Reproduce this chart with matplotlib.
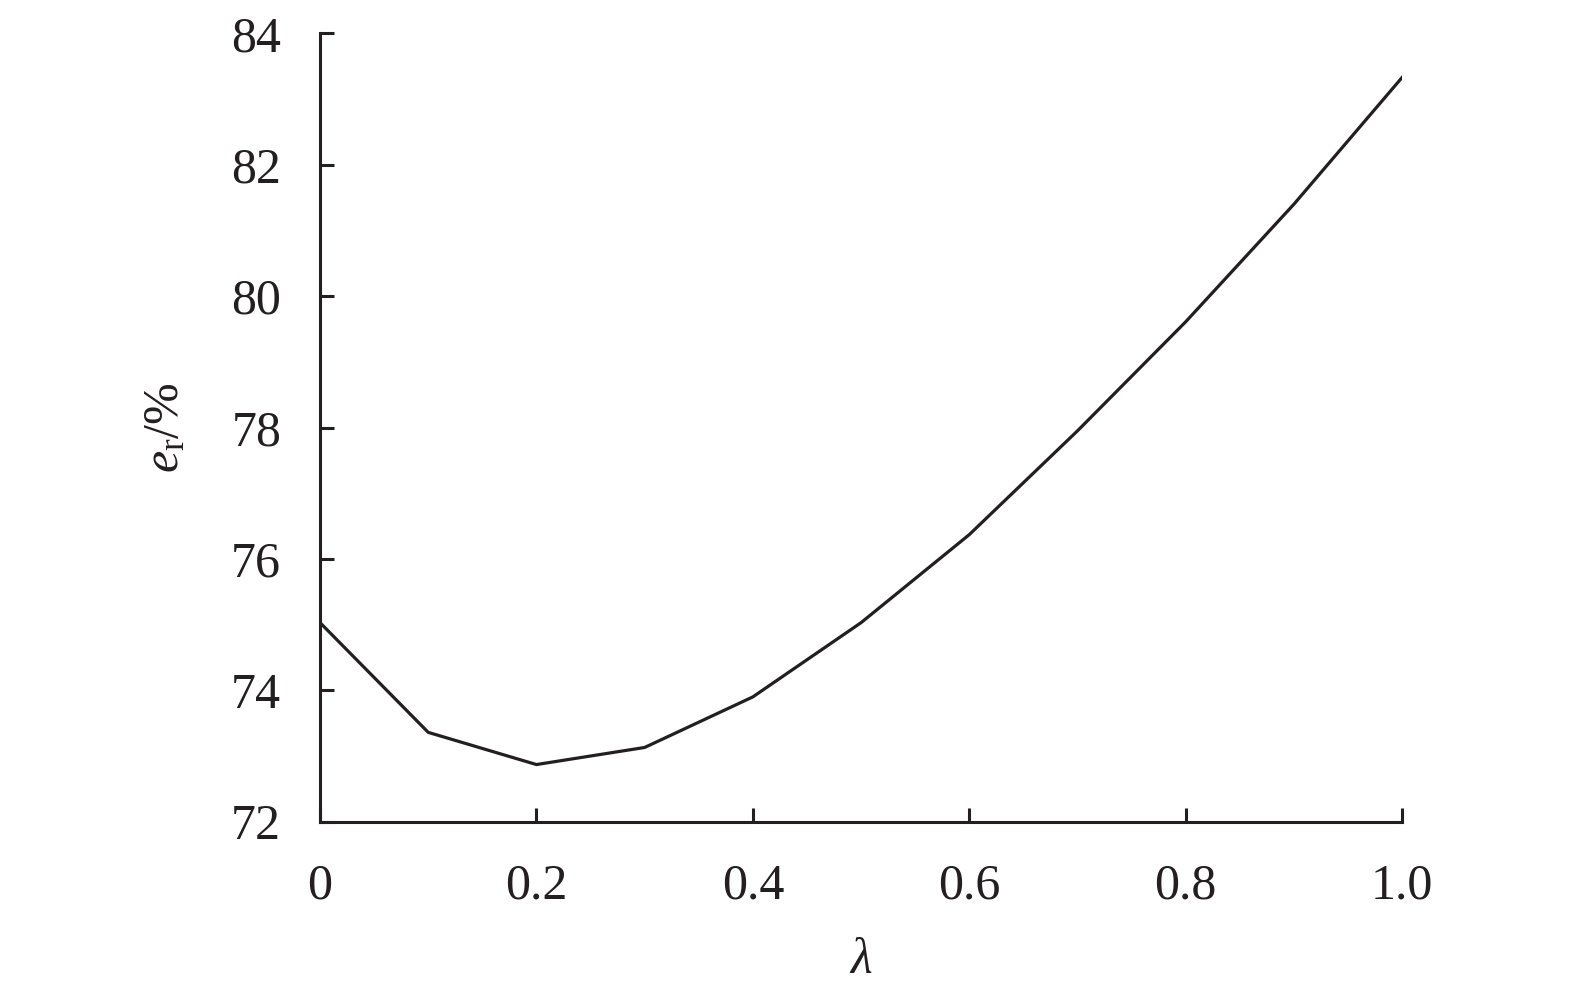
import matplotlib
matplotlib.use("Agg")
import matplotlib.pyplot as plt

plt.rcParams["font.family"] = ["Liberation Serif", "DejaVu Serif"]
plt.rcParams["mathtext.fontset"] = "custom"
plt.rcParams["mathtext.rm"] = "Liberation Serif"
plt.rcParams["mathtext.it"] = "Liberation Serif:italic"

LINE_COLOR = "#231f20"

lam = [0.0, 0.1, 0.2, 0.3, 0.4, 0.5, 0.6, 0.7, 0.8, 0.9, 1.0]
er = [75.03, 73.36, 72.87, 73.13, 73.90, 75.03, 76.37, 77.95, 79.61, 81.40, 83.33]

x_ticks = [0, 0.2, 0.4, 0.6, 0.8, 1.0]
x_ticklabels = ["0", "0.2", "0.4", "0.6", "0.8", "1.0"]
y_ticks = [72, 74, 76, 78, 80, 82, 84]

fig = plt.figure(figsize=(15.75, 9.96), dpi=100)
ax = fig.add_axes([0.2032, 0.175, 0.687, 0.7914])

ax.plot(lam, er, color=LINE_COLOR, linewidth=2.3)

ax.set_xlim(0, 1.0)
ax.set_ylim(72, 84)
ax.set_xticks(x_ticks)
ax.set_xticklabels(x_ticklabels)
ax.set_yticks(y_ticks)

ax.spines[["top", "right"]].set_visible(False)
for s in ("left", "bottom"):
    ax.spines[s].set_linewidth(2.2)
    ax.spines[s].set_color(LINE_COLOR)

ax.tick_params(axis="both", direction="in", length=10, width=2.2,
               color=LINE_COLOR, labelsize=36, labelcolor=LINE_COLOR)
ax.tick_params(axis="x", pad=30)
ax.tick_params(axis="y", pad=28)

ax.set_xlabel(r"$\mathit{\lambda}$", fontsize=36, color=LINE_COLOR, labelpad=20)
ax.set_ylabel(r"$e_{\mathrm{r}}$/%", fontsize=36, color=LINE_COLOR, labelpad=30)

fig.savefig("out.png", dpi=100, facecolor="white")
